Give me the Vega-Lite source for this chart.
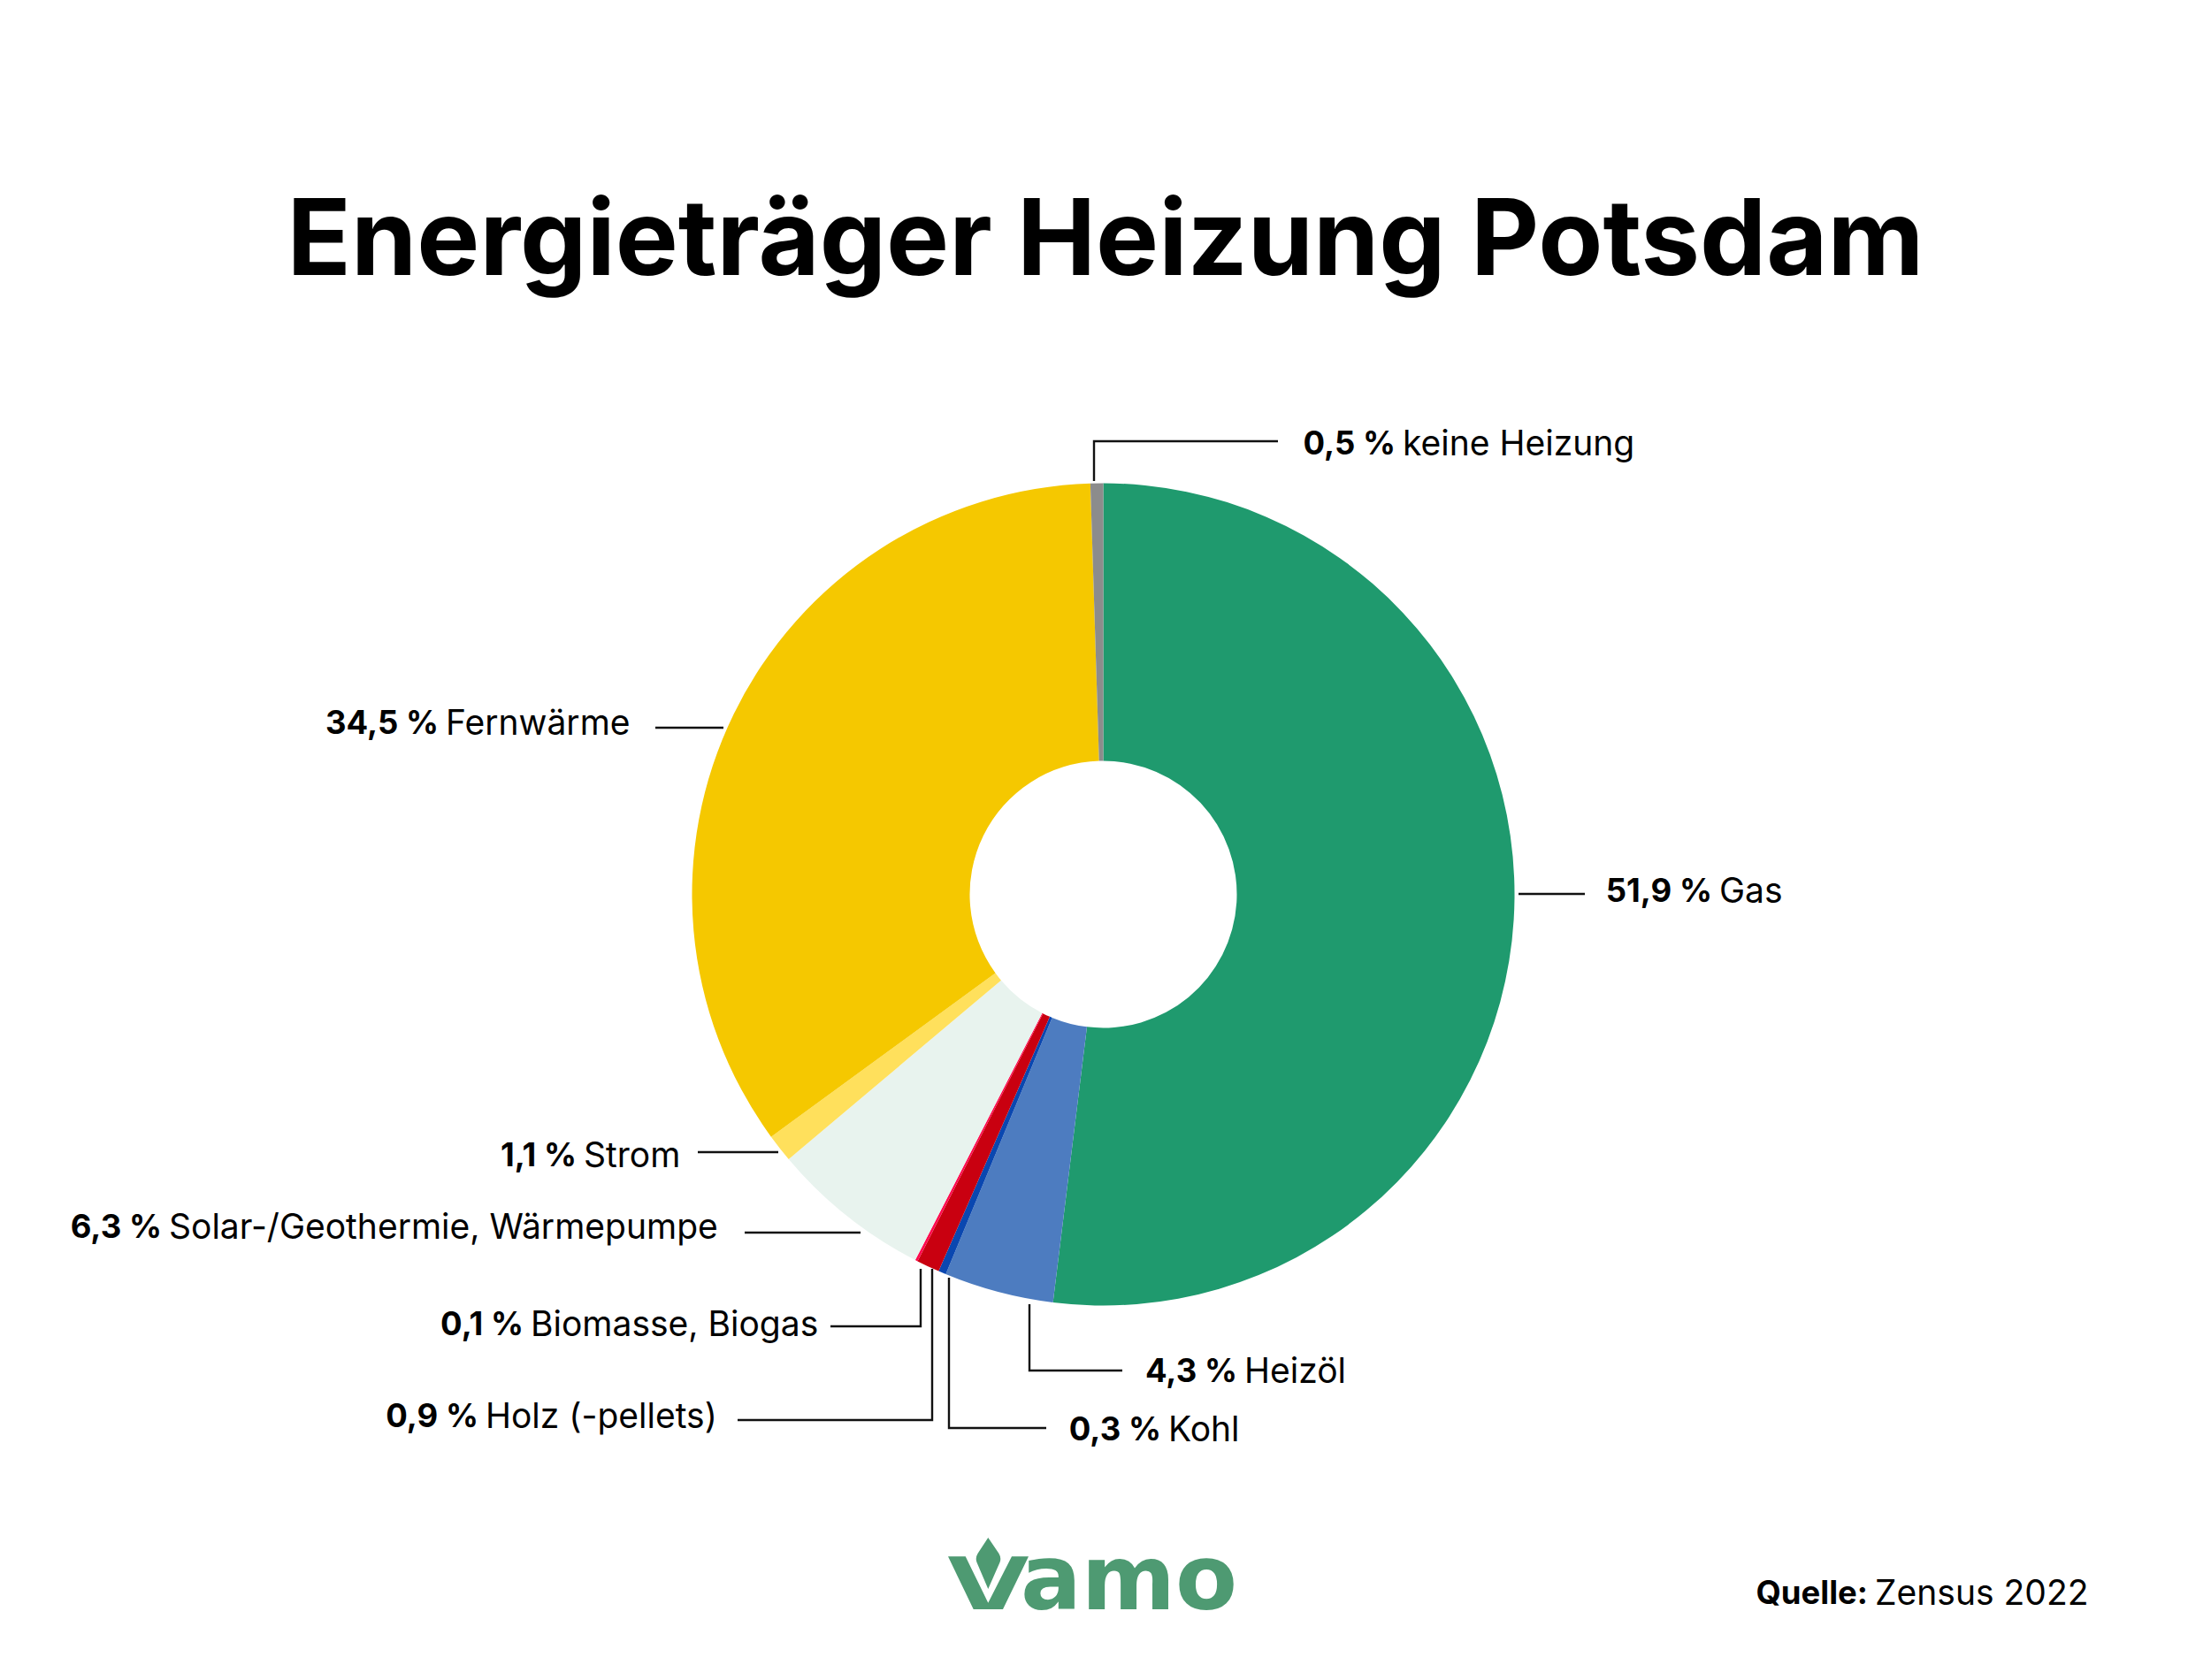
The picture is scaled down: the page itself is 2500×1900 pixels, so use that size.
{
  "$schema": "https://vega.github.io/schema/vega-lite/v6.json",
  "width": 2495,
  "height": 1777,
  "autosize": "none",
  "padding": {"top": 123, "left": 0, "right": 5, "bottom": 0},
  "background": "white",
  "config": {"view": {"stroke": null}, "text": {"font": "Inter"}},
  "datasets": {
    "anteile": [
      {"traeger": "Gas", "anteil": 51.9, "rang": 1},
      {"traeger": "Heizöl", "anteil": 4.3, "rang": 2},
      {"traeger": "Kohl", "anteil": 0.3, "rang": 3},
      {"traeger": "Holz (-pellets)", "anteil": 0.9, "rang": 4},
      {"traeger": "Biomasse, Biogas", "anteil": 0.1, "rang": 5},
      {"traeger": "Solar-/Geothermie, Wärmepumpe", "anteil": 6.3, "rang": 6},
      {"traeger": "Strom", "anteil": 1.1, "rang": 7},
      {"traeger": "Fernwärme", "anteil": 34.5, "rang": 8},
      {"traeger": "keine Heizung", "anteil": 0.5, "rang": 9}
    ],
    "beschriftung": [
      {"fett": "0,5 %", "text": "keine Heizung", "x": 1582, "y": 503},
      {"fett": "51,9 %", "text": "Gas", "x": 1940, "y": 1009},
      {"fett": "4,3 %", "text": "Heizöl", "x": 1403, "y": 1552},
      {"fett": "0,3 %", "text": "Kohl", "x": 1317, "y": 1618},
      {"fett": "34,5 %", "text": "Fernwärme", "x": 500, "y": 819},
      {"fett": "1,1 %", "text": "Strom", "x": 656, "y": 1308},
      {"fett": "6,3 %", "text": "Solar-/Geothermie, Wärmepumpe", "x": 187, "y": 1389},
      {"fett": "0,1 %", "text": "Biomasse, Biogas", "x": 596, "y": 1499},
      {"fett": "0,9 %", "text": "Holz (-pellets)", "x": 545, "y": 1603},
      {"fett": "Quelle:", "text": "Zensus 2022", "x": 2116, "y": 1803}
    ],
    "linien": [
      {"linie": "keine Heizung", "n": 1, "x": 1237, "y": 544},
      {"linie": "keine Heizung", "n": 2, "x": 1237, "y": 499},
      {"linie": "keine Heizung", "n": 3, "x": 1445, "y": 499},
      {"linie": "Gas", "n": 1, "x": 1717, "y": 1011},
      {"linie": "Gas", "n": 2, "x": 1792, "y": 1011},
      {"linie": "Fernwärme", "n": 1, "x": 741, "y": 823},
      {"linie": "Fernwärme", "n": 2, "x": 818, "y": 823},
      {"linie": "Strom", "n": 1, "x": 789, "y": 1303},
      {"linie": "Strom", "n": 2, "x": 880, "y": 1303},
      {"linie": "Solar", "n": 1, "x": 842, "y": 1394},
      {"linie": "Solar", "n": 2, "x": 973, "y": 1394},
      {"linie": "Biomasse", "n": 1, "x": 939, "y": 1500},
      {"linie": "Biomasse", "n": 2, "x": 1041, "y": 1500},
      {"linie": "Biomasse", "n": 3, "x": 1041, "y": 1435},
      {"linie": "Holz", "n": 1, "x": 834, "y": 1606},
      {"linie": "Holz", "n": 2, "x": 1054, "y": 1606},
      {"linie": "Holz", "n": 3, "x": 1054, "y": 1435},
      {"linie": "Kohl", "n": 1, "x": 1073, "y": 1445},
      {"linie": "Kohl", "n": 2, "x": 1073, "y": 1615},
      {"linie": "Kohl", "n": 3, "x": 1183, "y": 1615},
      {"linie": "Heizöl", "n": 1, "x": 1164, "y": 1475},
      {"linie": "Heizöl", "n": 2, "x": 1164, "y": 1550},
      {"linie": "Heizöl", "n": 3, "x": 1269, "y": 1550}
    ]
  },
  "layer": [
    {
      "data": {"name": "anteile"},
      "mark": {"type": "arc", "outerRadius": 465, "innerRadius": 151},
      "encoding": {
        "theta": {"field": "anteil", "type": "quantitative", "stack": true},
        "order": {"field": "rang", "type": "ordinal"},
        "color": {
          "field": "traeger",
          "type": "nominal",
          "legend": null,
          "scale": {
            "domain": ["Gas", "Heizöl", "Kohl", "Holz (-pellets)", "Biomasse, Biogas", "Solar-/Geothermie, Wärmepumpe", "Strom", "Fernwärme", "keine Heizung"],
            "range": ["#1F9A6E", "#4D7CC0", "#0A47B0", "#C90010", "#FF0A4E", "#E8F3EE", "#FFE05C", "#F5C800", "#8C8C8C"]
          }
        }
      }
    },
    {
      "data": {"name": "linien"},
      "mark": {"type": "line", "color": "#111111", "strokeWidth": 2.4, "strokeJoin": "miter"},
      "encoding": {
        "x": {"field": "x", "type": "quantitative", "axis": null, "scale": {"domain": [0, 2495], "nice": false, "zero": false}},
        "y": {"field": "y", "type": "quantitative", "axis": null, "scale": {"domain": [1900, 123], "nice": false, "zero": false}},
        "detail": {"field": "linie"},
        "order": {"field": "n", "type": "ordinal"}
      }
    },
    {
      "data": {"name": "beschriftung"},
      "mark": {"type": "text", "align": "right", "baseline": "middle", "fontSize": 36.5, "fontWeight": 700, "dx": -4, "color": "#000000"},
      "encoding": {
        "x": {"field": "x", "type": "quantitative"},
        "y": {"field": "y", "type": "quantitative"},
        "text": {"field": "fett"}
      }
    },
    {
      "data": {"name": "beschriftung"},
      "mark": {"type": "text", "align": "left", "baseline": "middle", "fontSize": 39, "fontWeight": 400, "dx": 4, "color": "#000000"},
      "encoding": {
        "x": {"field": "x", "type": "quantitative"},
        "y": {"field": "y", "type": "quantitative"},
        "text": {"field": "text"}
      }
    },
    {
      "data": {"values": [{"titel": "Energieträger Heizung Potsdam", "x": 1250, "y": 311}]},
      "mark": {"type": "text", "align": "center", "baseline": "alphabetic", "fontSize": 119.3, "fontWeight": 700, "color": "#000000"},
      "encoding": {
        "x": {"field": "x", "type": "quantitative"},
        "y": {"field": "y", "type": "quantitative"},
        "text": {"field": "titel"}
      }
    },
    {
      "data": {"values": [{"x": 1117.5, "y": 1790}]},
      "mark": {
        "type": "point",
        "filled": true,
        "opacity": 1,
        "size": 4,
        "color": "#4E9A72",
        "shape": "M-45.5-29.7H-25.8L-.2 22.7 26.5-29.7H45.5L16.5 30H-16.8ZM-.2-51L12-33Q15-28 13-23L-.2 7-13-23Q-15-28-12-33Z"
      },
      "encoding": {
        "x": {"field": "x", "type": "quantitative"},
        "y": {"field": "y", "type": "quantitative"}
      }
    },
    {
      "data": {"values": [{"logo": "amo", "x": 1154, "y": 1820}]},
      "mark": {"type": "text", "align": "left", "baseline": "alphabetic", "font": "DejaVu Sans", "fontSize": 102, "fontWeight": 700, "color": "#4E9A72"},
      "encoding": {
        "x": {"field": "x", "type": "quantitative"},
        "y": {"field": "y", "type": "quantitative"},
        "text": {"field": "logo"}
      }
    }
  ]
}
